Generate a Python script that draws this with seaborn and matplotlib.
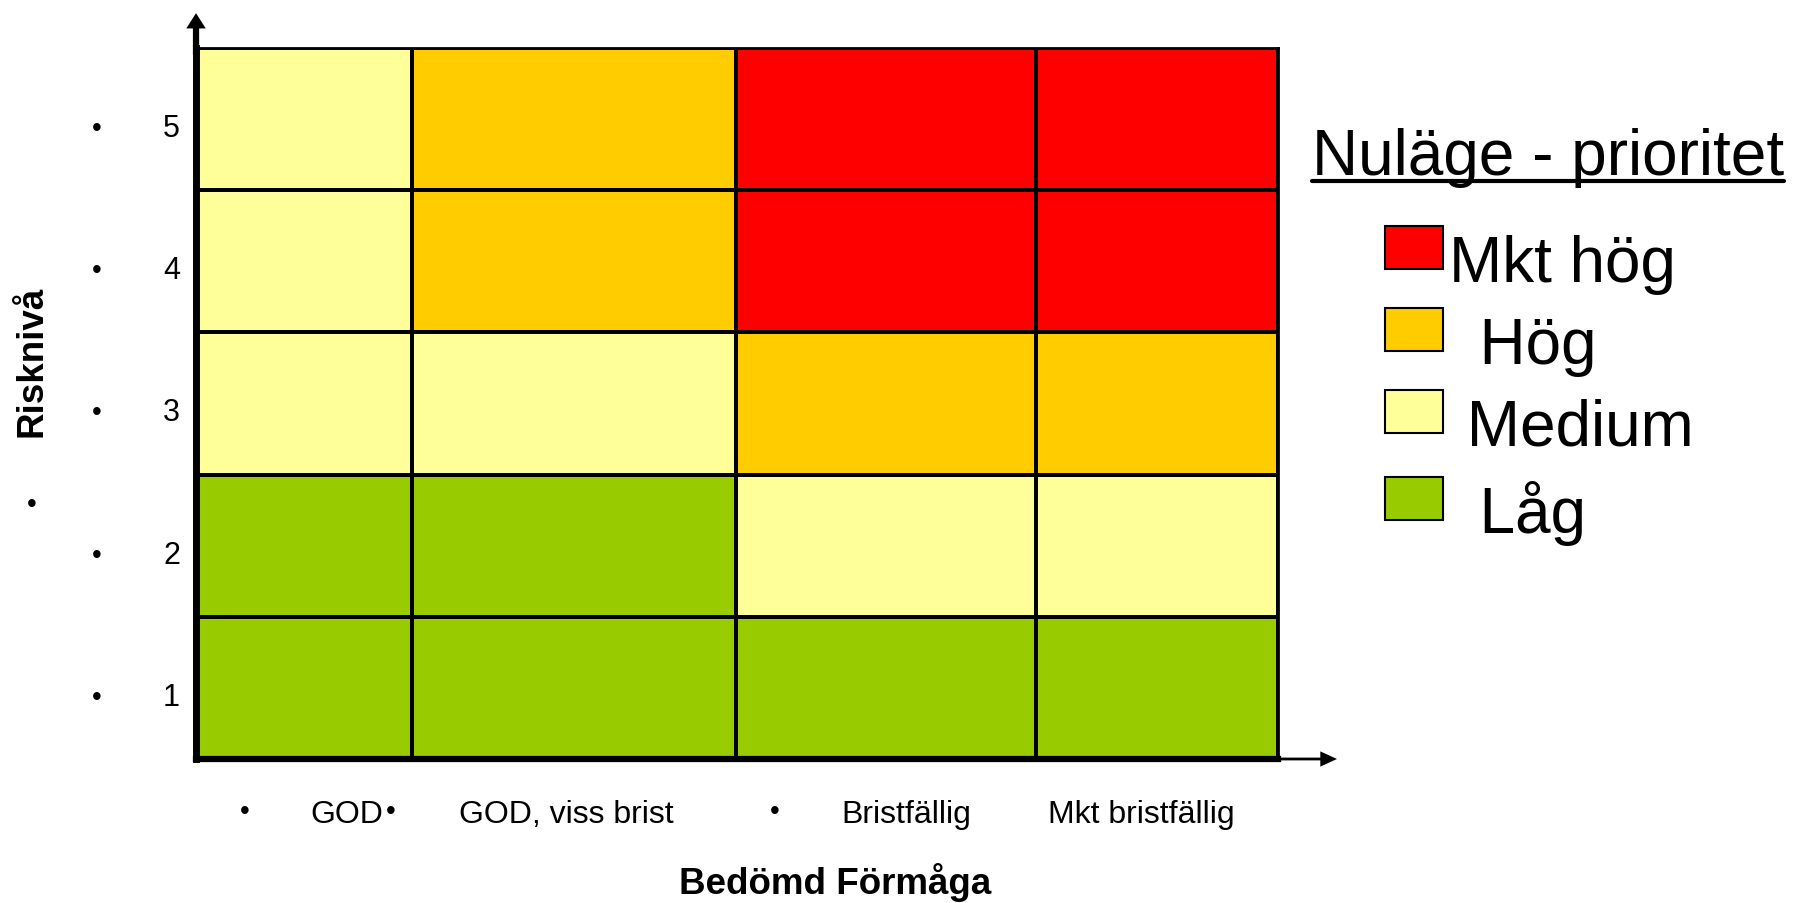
import numpy as np
import pandas as pd
import seaborn as sns
import matplotlib.pyplot as plt
from matplotlib.colors import ListedColormap
from matplotlib.patches import Patch, Rectangle
from matplotlib.lines import Line2D
from matplotlib.legend_handler import HandlerPatch

abilities = ['GOD', 'GOD, viss brist', 'Bristfällig', 'Mkt bristfällig']
risk_levels = ['5', '4', '3', '2', '1']
priorities = ['Låg', 'Medium', 'Hög', 'Mkt hög']
priority_colors = ['#99CC00', '#FFFF99', '#FFCC00', '#FF0000']

# priority of each cell, rows = risk level 5..1, columns = abilities
grid = [
    ['Medium', 'Hög', 'Mkt hög', 'Mkt hög'],
    ['Medium', 'Hög', 'Mkt hög', 'Mkt hög'],
    ['Medium', 'Medium', 'Hög', 'Hög'],
    ['Låg', 'Låg', 'Medium', 'Medium'],
    ['Låg', 'Låg', 'Låg', 'Låg'],
]

sns.set_style('white')
plt.rcParams['font.family'] = ['Liberation Sans', 'DejaVu Sans']
plt.rcParams.update({'text.color': 'black', 'axes.labelcolor': 'black',
                     'xtick.color': 'black', 'ytick.color': 'black'})

codes = pd.DataFrame([[priorities.index(p) for p in row] for row in grid],
                     index=risk_levels, columns=abilities)

fig = plt.figure(figsize=(18, 9.04), dpi=100)
ax = fig.add_axes([0.1089, 0.1593, 0.6011, 0.7865])

sns.heatmap(codes, cmap=ListedColormap(priority_colors), vmin=-0.5, vmax=3.5,
            cbar=False, linewidths=1.5, linecolor='black',
            xticklabels=False, ax=ax)

# the columns are not equally wide in the original slide
col_edges = [0, 216, 540, 840, 1082]
col_idx = np.arange(len(col_edges))
ax.set_xscale('function', functions=(lambda v: np.interp(v, col_idx, col_edges),
                                     lambda v: np.interp(v, col_edges, col_idx)))
ax.set_xlim(0, 4)
ax.set_ylim(5, 0)

# tick labels (the odd bullets come from the powerpoint original)
ytick_pos = np.arange(5) + 0.563
ax.set_xticks([0.70, 1.475, 2.567, 3.434], abilities)
ax.set_yticks(ytick_pos, risk_levels)
ax.tick_params(axis='x', length=0, pad=29, labelsize=23)
ax.tick_params(axis='y', length=0, pad=11.5, labelsize=22, labelrotation=0)
xt = ax.get_xaxis_transform()
for xb in [0.227, 0.903, 2.13]:
    ax.text(xb, -0.073, '•', transform=xt, ha='center', va='center', fontsize=20)
yt = ax.get_yaxis_transform()
for yb in ytick_pos:
    ax.text(-0.0915, yb, '•', transform=yt, ha='center', va='center', fontsize=20)
ax.text(-0.1516, 0.359, '•', transform=ax.transAxes, ha='center', va='center', fontsize=20)

ax.set_xlabel('Bedömd Förmåga', fontsize=26.5, fontweight='bold', va='center')
ax.xaxis.set_label_coords(0.5906, -0.173)
ax.set_ylabel('Risknivå', fontsize=26.5, fontweight='bold', va='center')
ax.yaxis.set_label_coords(-0.1516, 0.56)

# frame + axis arrows
for side, lw in [('left', 5), ('bottom', 4.5), ('top', 2), ('right', 2)]:
    ax.spines[side].set_visible(True)
    ax.spines[side].set_linewidth(lw)
    ax.spines[side].set_color('black')
ax.annotate('', xy=(0, 1.049), xytext=(0, 0.99), xycoords='axes fraction',
            arrowprops=dict(width=4.5, headwidth=14, headlength=11, shrink=0,
                            fc='black', ec='black', lw=0))
ax.annotate('', xy=(1.0545, 0), xytext=(0.99, 0), xycoords='axes fraction',
            arrowprops=dict(width=2, headwidth=11, headlength=12, shrink=0,
                            fc='black', ec='black', lw=0))

# legend with underlined title
title = fig.text(0.7289, 0.8064, 'Nuläge - prioritet', fontsize=46, va='baseline')
renderer = fig.canvas.get_renderer()
bb = title.get_window_extent(renderer)
fig.add_artist(Line2D([bb.x0 / 1800, bb.x1 / 1800], [0.7987, 0.7987],
                      transform=fig.transFigure, color='black', lw=3))


def raised_box(legend, orig_handle, xdescent, ydescent, width, height, fontsize):
    # swatches sit a bit higher than the text in the original
    return Rectangle((-xdescent, -ydescent + 8), width, height)


legend_labels = ['Mkt hög', ' \u2009Hög', ' Medium', ' \u2009Låg']
handles = [Patch(facecolor=c, edgecolor='black', lw=1.5, label=l)
           for c, l in zip(priority_colors[::-1], legend_labels)]
fig.legend(handles=handles, loc='upper left', bbox_to_anchor=(0.7694, 0.7395),
           frameon=False, fontsize=46, handlelength=0.91, handleheight=0.66,
           handletextpad=0.1, labelspacing=0.34, borderpad=0, borderaxespad=0,
           handler_map={Patch: HandlerPatch(patch_func=raised_box)})

fig.savefig('out.png', dpi=100)
